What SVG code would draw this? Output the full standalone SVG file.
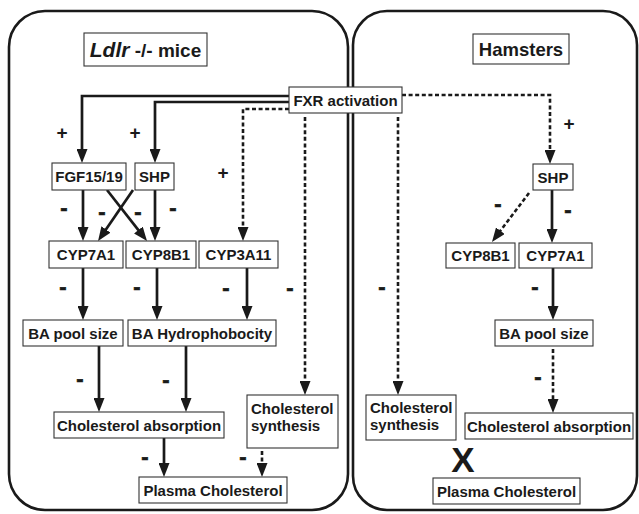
<svg xmlns="http://www.w3.org/2000/svg" width="639" height="514" viewBox="0 0 639 514">
<style>
.panel{fill:none;stroke:#1a1a1a;stroke-width:2.6}
.box{fill:#fff;stroke:#333;stroke-width:1.1}
.t{font-family:"Liberation Sans",Arial,sans-serif;font-weight:bold;font-size:15px;fill:#1a1a1a}
.c{text-anchor:middle}
.sign{font-family:"Liberation Sans",Arial,sans-serif;font-weight:bold;font-size:22px;fill:#1a1a1a;stroke:#1a1a1a;stroke-width:0.6;text-anchor:middle}
.plus{font-family:"Liberation Sans",Arial,sans-serif;font-weight:bold;font-size:19px;fill:#1a1a1a;text-anchor:middle}
.s{fill:none;stroke:#1a1a1a;stroke-width:2.7;stroke-linejoin:miter}
.d{fill:none;stroke:#1a1a1a;stroke-width:2.6;stroke-dasharray:4 2.6;stroke-linejoin:miter}
</style>
<defs>
<marker id="ah" markerUnits="userSpaceOnUse" markerWidth="14" markerHeight="11" viewBox="0 0 14 11" refX="1" refY="5.5" orient="auto">
<path d="M0,0 L14,5.5 L0,11 z" fill="#1a1a1a"/>
</marker>
</defs>
<rect width="639" height="514" fill="#fff"/>
<g id="panels">
<rect class="panel" x="9" y="11" width="339" height="499" rx="36" ry="36"/>
<rect class="panel" x="353" y="11" width="284" height="499" rx="34" ry="34"/>
</g>
<g id="connectors">
<path class="s" d="M289,96 H82 V150" marker-end="url(#ah)"/>
<path class="s" d="M289,102 H155 V150" marker-end="url(#ah)"/>
<path class="d" d="M289,109 H243 V228" marker-end="url(#ah)"/>
<path class="d" d="M305,117 V382" marker-end="url(#ah)"/>
<path class="d" d="M398,117 V382" marker-end="url(#ah)"/>
<path class="d" d="M402,95 H550 V151" marker-end="url(#ah)"/>
<path class="s" d="M83,190 V228" marker-end="url(#ah)"/>
<path class="s" d="M155,190 V228" marker-end="url(#ah)"/>
<path class="s" d="M107,190 L139,230.8" marker-end="url(#ah)"/>
<path class="s" d="M133,190 L105.4,230.3" marker-end="url(#ah)"/>
<path class="s" d="M83,268 V307" marker-end="url(#ah)"/>
<path class="s" d="M157,268 V307" marker-end="url(#ah)"/>
<path class="s" d="M247,268 V307" marker-end="url(#ah)"/>
<path class="s" d="M99,346 V399" marker-end="url(#ah)"/>
<path class="s" d="M186,346 V399" marker-end="url(#ah)"/>
<path class="s" d="M164,438 V464" marker-end="url(#ah)"/>
<path class="d" d="M262,451 V464" marker-end="url(#ah)"/>
<path class="s" d="M552,190 V230" marker-end="url(#ah)"/>
<path class="d" d="M529,193 L499.8,231.6" marker-end="url(#ah)"/>
<path class="s" d="M553,268 V307" marker-end="url(#ah)"/>
<path class="d" d="M553,349 V400" marker-end="url(#ah)"/>
</g>
<g id="signs">
<text class="plus" x="62" y="139">+</text>
<text class="plus" x="135" y="139">+</text>
<text class="plus" x="223" y="179">+</text>
<text class="plus" x="569" y="130">+</text>
<text class="sign" x="64" y="215">-</text>
<text class="sign" x="102" y="219">-</text>
<text class="sign" x="138" y="219">-</text>
<text class="sign" x="173" y="215">-</text>
<text class="sign" x="63" y="294">-</text>
<text class="sign" x="137" y="294">-</text>
<text class="sign" x="226" y="295">-</text>
<text class="sign" x="290" y="295">-</text>
<text class="sign" x="80" y="386">-</text>
<text class="sign" x="166" y="387">-</text>
<text class="sign" x="145" y="464">-</text>
<text class="sign" x="243" y="464">-</text>
<text class="sign" x="382" y="294">-</text>
<text class="sign" x="498" y="211">-</text>
<text class="sign" x="568" y="217">-</text>
<text class="sign" x="535" y="294">-</text>
<text class="sign" x="538" y="384">-</text>
</g>
<g id="title-mice">
<rect class="box" x="84" y="33" width="123" height="33"/>
<text class="t c" x="145.5" y="57"><tspan style="font-style:italic;font-size:21px">Ldlr</tspan><tspan style="font-size:19px"> -/- mice</tspan></text>
</g>
<g id="title-hamsters">
<rect class="box" x="473" y="34" width="96" height="30"/>
<text class="t c" x="521" y="56" style="font-size:18.5px">Hamsters</text>
</g>
<g id="fxr">
<rect class="box" x="289" y="87" width="113" height="26"/>
<text class="t c" x="345.5" y="105.5">FXR activation</text>
</g>
<g id="fgf">
<rect class="box" x="52" y="163" width="74" height="27"/>
<text class="t c" x="89" y="182">FGF15/19</text>
</g>
<g id="shp-m">
<rect class="box" x="135" y="163" width="39" height="27"/>
<text class="t c" x="154.5" y="182">SHP</text>
</g>
<g id="cyp7a1-m">
<rect class="box" x="49" y="241" width="74" height="27"/>
<text class="t c" x="86" y="260">CYP7A1</text>
</g>
<g id="cyp8b1-m">
<rect class="box" x="126" y="241" width="70" height="27"/>
<text class="t c" x="161" y="260">CYP8B1</text>
</g>
<g id="cyp3a11">
<rect class="box" x="199" y="241" width="79" height="27"/>
<text class="t c" x="238.5" y="260">CYP3A11</text>
</g>
<g id="bapool-m">
<rect class="box" x="23" y="320" width="100" height="26"/>
<text class="t c" x="73" y="338.5">BA pool size</text>
</g>
<g id="bahydro">
<rect class="box" x="128" y="320" width="148" height="26"/>
<text class="t c" x="202" y="338.5">BA Hydrophobocity</text>
</g>
<g id="cholabs-m">
<rect class="box" x="54" y="412" width="170" height="26"/>
<text class="t c" x="139" y="430.5">Cholesterol absorption</text>
</g>
<g id="cholsyn-m">
<rect class="box" x="247" y="395" width="91" height="53"/>
<text class="t" x="251" y="414">Cholesterol</text>
<text class="t" x="251" y="431">synthesis</text>
</g>
<g id="plasma-m">
<rect class="box" x="139" y="477" width="148" height="26"/>
<text class="t c" x="213" y="495.5">Plasma Cholesterol</text>
</g>
<g id="shp-h">
<rect class="box" x="533" y="164" width="40" height="26"/>
<text class="t c" x="553" y="182.5">SHP</text>
</g>
<g id="cyp8b1-h">
<rect class="box" x="446" y="243" width="69" height="25"/>
<text class="t c" x="480.5" y="261">CYP8B1</text>
</g>
<g id="cyp7a1-h">
<rect class="box" x="519" y="243" width="73" height="25"/>
<text class="t c" x="555.5" y="261">CYP7A1</text>
</g>
<g id="bapool-h">
<rect class="box" x="495" y="320" width="98" height="26"/>
<text class="t c" x="544" y="338.5">BA pool size</text>
</g>
<g id="cholsyn-h">
<rect class="box" x="366" y="395" width="90" height="45"/>
<text class="t" x="370" y="413">Cholesterol</text>
<text class="t" x="370" y="430">synthesis</text>
</g>
<g id="cholabs-h">
<rect class="box" x="465" y="413" width="168" height="26"/>
<text class="t c" x="549" y="431.5">Cholesterol absorption</text>
</g>
<g id="x-mark">
<text class="t c" x="463" y="472" style="font-size:35px">X</text>
</g>
<g id="plasma-h">
<rect class="box" x="433" y="478" width="147" height="26"/>
<text class="t c" x="506.5" y="496.5">Plasma Cholesterol</text>
</g>
</svg>
